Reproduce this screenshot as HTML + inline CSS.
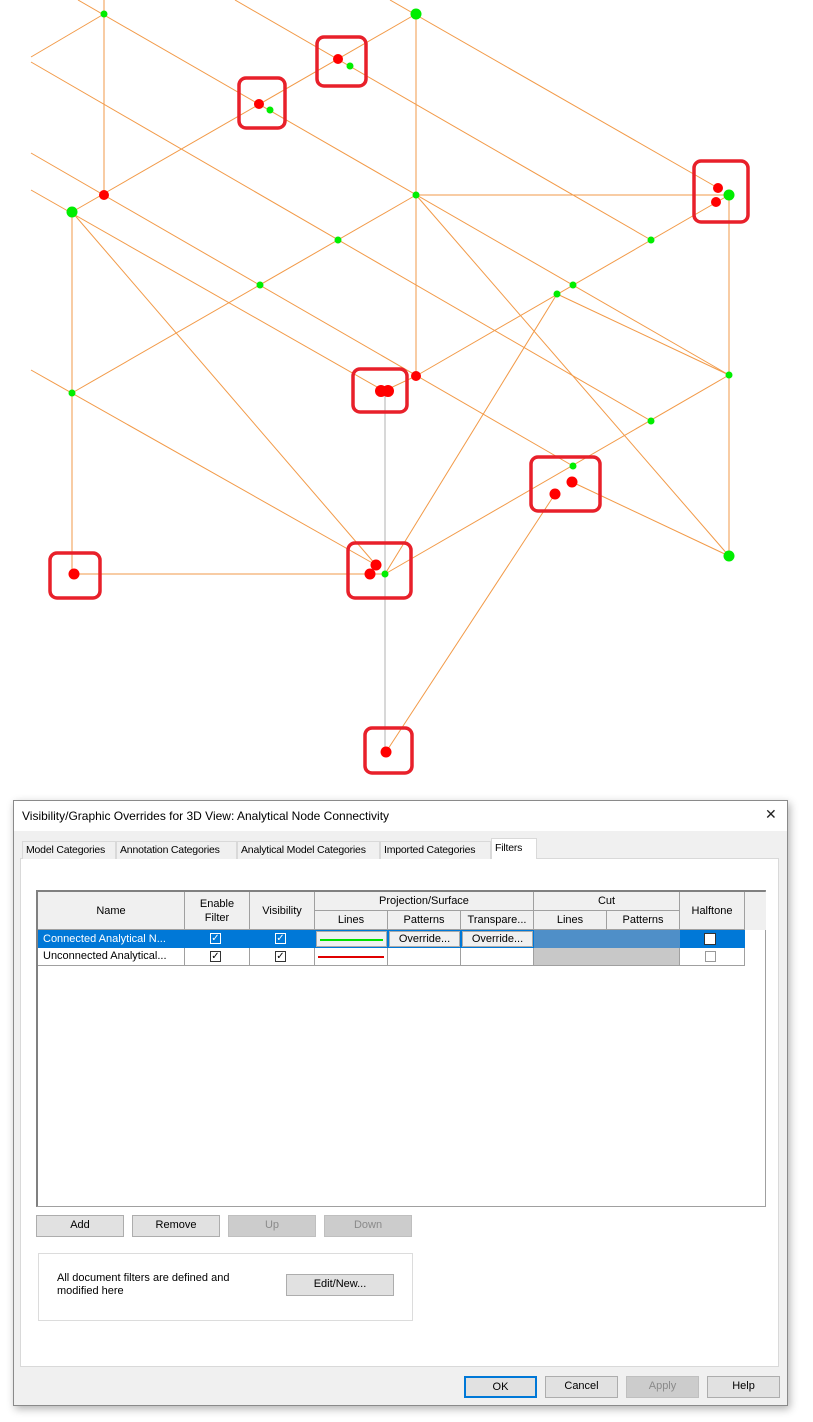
<!DOCTYPE html>
<html><head><meta charset="utf-8"><style>
body{margin:0;width:813px;height:1422px;background:#fff;position:relative;overflow:hidden;font-family:"Liberation Sans",sans-serif;font-size:11px;color:#000}
.a{position:absolute;box-sizing:border-box;white-space:nowrap}
.btn{position:absolute;box-sizing:border-box;background:#e1e1e1;border:1px solid #adadad;text-align:center;line-height:19px;font-size:11px}
.dis{color:#8a8a8a;background:#cccccc;border-color:#bfbfbf}
.tab{position:absolute;top:841px;height:18px;border:1px solid #d9d9d9;border-bottom:none;background:#f0f0f0;line-height:17px;padding:0 3px;font-size:10.5px;box-sizing:border-box;white-space:nowrap;overflow:hidden;letter-spacing:-0.2px}
.c{position:absolute;box-sizing:border-box;border-right:1px solid #a0a0a0;border-bottom:1px solid #a0a0a0;text-align:center;font-size:11px;white-space:nowrap;overflow:hidden}
.cb{position:absolute;width:11px;height:11px;border:1px solid #333;background:#fff;box-sizing:border-box;font-size:10px;line-height:9px;text-align:center}
</style></head><body>
<svg class="a" style="left:0;top:0" width="813" height="790" viewBox="0 0 813 790">
<g stroke="#f29a48" stroke-width="1" fill="none">
<line x1="104" y1="0" x2="104" y2="195"/>
<line x1="416" y1="14" x2="416" y2="376"/>
<line x1="72" y1="212" x2="72" y2="574"/>
<line x1="729" y1="195" x2="729" y2="556"/>
<line x1="31" y1="57" x2="104" y2="14"/>
<line x1="72" y1="212" x2="416" y2="14"/>
<line x1="72" y1="393" x2="416" y2="195"/>
<line x1="416" y1="376" x2="729" y2="195"/>
<line x1="385" y1="574" x2="729" y2="375"/>
<line x1="384" y1="391" x2="416" y2="376"/>
<line x1="416" y1="195" x2="729" y2="195"/>
<line x1="78" y1="0" x2="729" y2="375"/>
<line x1="235" y1="0" x2="651" y2="240"/>
<line x1="390" y1="0" x2="718" y2="188"/>
<line x1="31" y1="62" x2="651" y2="421"/>
<line x1="31" y1="153" x2="573" y2="466"/>
<line x1="572" y1="482" x2="729" y2="556"/>
<line x1="31" y1="190" x2="384" y2="391"/>
<line x1="31" y1="370" x2="376" y2="565"/>
<line x1="72" y1="212" x2="376" y2="565"/>
<line x1="416" y1="195" x2="729" y2="556"/>
<line x1="557" y1="294" x2="729" y2="375"/>
<line x1="557" y1="294" x2="385" y2="574"/>
<line x1="555" y1="494" x2="386" y2="752"/>
<line x1="74" y1="574" x2="385" y2="574"/>
</g>
<line x1="385" y1="391" x2="385" y2="752" stroke="#b0b0b0" stroke-width="1"/>
<g fill="#ff0000">
<circle cx="338" cy="59" r="5"/><circle cx="259" cy="104" r="5"/><circle cx="104" cy="195" r="5"/>
<circle cx="718" cy="188" r="5"/><circle cx="716" cy="202" r="5"/><circle cx="416" cy="376" r="5"/>
<circle cx="381" cy="391" r="6"/><circle cx="388" cy="391" r="6"/>
<circle cx="572" cy="482" r="5.5"/><circle cx="555" cy="494" r="5.5"/>
<circle cx="376" cy="565" r="5.5"/><circle cx="370" cy="574" r="5.5"/>
<circle cx="74" cy="574" r="5.5"/><circle cx="386" cy="752" r="5.5"/>
</g>
<g fill="#00ee00">
<circle cx="104" cy="14" r="3.5"/><circle cx="416" cy="14" r="5.5"/><circle cx="350" cy="66" r="3.5"/>
<circle cx="270" cy="110" r="3.5"/><circle cx="72" cy="212" r="5.5"/><circle cx="416" cy="195" r="3.5"/>
<circle cx="338" cy="240" r="3.5"/><circle cx="260" cy="285" r="3.5"/><circle cx="729" cy="195" r="5.5"/>
<circle cx="651" cy="240" r="3.5"/><circle cx="573" cy="285" r="3.5"/><circle cx="557" cy="294" r="3.5"/>
<circle cx="72" cy="393" r="3.5"/><circle cx="729" cy="375" r="3.5"/><circle cx="651" cy="421" r="3.5"/>
<circle cx="573" cy="466" r="3.5"/><circle cx="729" cy="556" r="5.5"/><circle cx="385" cy="574" r="3.5"/>
</g>
<g fill="none" stroke="#e8202a" stroke-width="3.5">
<rect x="317" y="37" width="49" height="49" rx="7"/>
<rect x="239" y="78" width="46" height="50" rx="7"/>
<rect x="694" y="161" width="54" height="61" rx="7"/>
<rect x="353" y="369" width="54" height="43" rx="7"/>
<rect x="531" y="457" width="69" height="54" rx="7"/>
<rect x="348" y="543" width="63" height="55" rx="7"/>
<rect x="50" y="553" width="50" height="45" rx="7"/>
<rect x="365" y="728" width="47" height="45" rx="7"/>
</g>
</svg>

<div class="a" style="left:13px;top:800px;width:775px;height:606px;border:1px solid #8a8a8a;background:#f0f0f0;box-shadow:2px 3px 8px rgba(0,0,0,0.3)"></div>
<div class="a" style="left:14px;top:801px;width:773px;height:30px;background:#fff"></div>
<div class="a" style="left:22px;top:809px;font-size:12px">Visibility/Graphic Overrides for 3D View: Analytical Node Connectivity</div>
<div class="a" style="left:765px;top:806px;font-size:14px;color:#222">✕</div>
<div class="a" style="left:20px;top:858px;width:759px;height:509px;background:#fff;border:1px solid #d9d9d9"></div>
<div class="tab" style="left:22px;width:94px">Model Categories</div>
<div class="tab" style="left:116px;width:121px">Annotation Categories</div>
<div class="tab" style="left:237px;width:143px">Analytical Model Categories</div>
<div class="tab" style="left:380px;width:111px">Imported Categories</div>
<div class="tab" style="left:491px;top:838px;height:21px;width:46px;background:#fff;line-height:19px">Filters</div>

<div class="a" style="left:36px;top:890px;width:730px;height:317px;border:1px solid #a0a0a0;border-top:2px solid #808080;border-left:2px solid #808080;background:#fff"></div>
<div class="a" style="left:38px;top:892px;width:728px;height:38px;background:#f0f0f0"></div>
<div class="c" style="left:38px;top:892px;width:147px;height:38px;line-height:38px">Name</div>
<div class="c" style="left:185px;top:892px;width:65px;height:38px;line-height:14px;padding-top:5px;white-space:normal">Enable<br>Filter</div>
<div class="c" style="left:250px;top:892px;width:65px;height:38px;line-height:38px">Visibility</div>
<div class="c" style="left:315px;top:892px;width:219px;height:19px;line-height:18px">Projection/Surface</div>
<div class="c" style="left:534px;top:892px;width:146px;height:19px;line-height:18px">Cut</div>
<div class="c" style="left:680px;top:892px;width:65px;height:38px;line-height:38px">Halftone</div>
<div class="c" style="left:315px;top:911px;width:73px;height:19px;line-height:18px">Lines</div>
<div class="c" style="left:388px;top:911px;width:73px;height:19px;line-height:18px">Patterns</div>
<div class="c" style="left:461px;top:911px;width:73px;height:19px;line-height:18px">Transpare...</div>
<div class="c" style="left:534px;top:911px;width:73px;height:19px;line-height:18px">Lines</div>
<div class="c" style="left:607px;top:911px;width:73px;height:19px;line-height:18px">Patterns</div>

<div class="a" style="left:38px;top:930px;width:707px;height:18px;background:#0078d7"></div>
<div class="a" style="left:43px;top:933px;color:#fff">Connected Analytical N...</div>
<div class="cb" style="left:210px;top:933px;border-color:#fff;background:#0078d7;color:#fff">✓</div>
<div class="cb" style="left:275px;top:933px;border-color:#fff;background:#0078d7;color:#fff">✓</div>
<div class="a" style="left:316px;top:931px;width:71px;height:16px;background:#f0f0f0;border:1px solid #aaa"></div>
<div class="a" style="left:320px;top:939px;width:63px;height:2px;background:#00e000"></div>
<div class="a" style="left:389px;top:931px;width:71px;height:16px;background:#f0f0f0;border:1px solid #aaa;text-align:center;line-height:14px">Override...</div>
<div class="a" style="left:462px;top:931px;width:71px;height:16px;background:#f0f0f0;border:1px solid #aaa;text-align:center;line-height:14px">Override...</div>
<div class="a" style="left:534px;top:930px;width:146px;height:18px;background:#4f8fc8"></div>
<div class="cb" style="left:704px;top:933px;width:12px;height:12px"></div>

<div class="c" style="left:38px;top:948px;width:147px;height:18px;line-height:17px;text-align:left;padding-left:5px">Unconnected Analytical...</div>
<div class="c" style="left:185px;top:948px;width:65px;height:18px"></div>
<div class="c" style="left:250px;top:948px;width:65px;height:18px"></div>
<div class="c" style="left:315px;top:948px;width:73px;height:18px"></div>
<div class="c" style="left:388px;top:948px;width:73px;height:18px"></div>
<div class="c" style="left:461px;top:948px;width:73px;height:18px"></div>
<div class="c" style="left:534px;top:948px;width:146px;height:18px;background:#c8c8c8"></div>
<div class="c" style="left:680px;top:948px;width:65px;height:18px"></div>
<div class="cb" style="left:210px;top:951px">✓</div>
<div class="cb" style="left:275px;top:951px">✓</div>
<div class="a" style="left:318px;top:956px;width:66px;height:2px;background:#e00000"></div>
<div class="cb" style="left:705px;top:951px;border-color:#999"></div>

<div class="btn" style="left:36px;top:1215px;width:88px;height:22px">Add</div>
<div class="btn" style="left:132px;top:1215px;width:88px;height:22px">Remove</div>
<div class="btn dis" style="left:228px;top:1215px;width:88px;height:22px">Up</div>
<div class="btn dis" style="left:324px;top:1215px;width:88px;height:22px">Down</div>
<div class="a" style="left:38px;top:1253px;width:375px;height:68px;border:1px solid #dcdcdc"></div>
<div class="a" style="left:57px;top:1272px;line-height:13px">All document filters are defined and<br>modified here</div>
<div class="btn" style="left:286px;top:1274px;width:108px;height:22px">Edit/New...</div>
<div class="btn" style="left:464px;top:1376px;width:73px;height:22px;border:2px solid #0078d7;line-height:18px">OK</div>
<div class="btn" style="left:545px;top:1376px;width:73px;height:22px">Cancel</div>
<div class="btn dis" style="left:626px;top:1376px;width:73px;height:22px">Apply</div>
<div class="btn" style="left:707px;top:1376px;width:73px;height:22px">Help</div>
</body></html>
